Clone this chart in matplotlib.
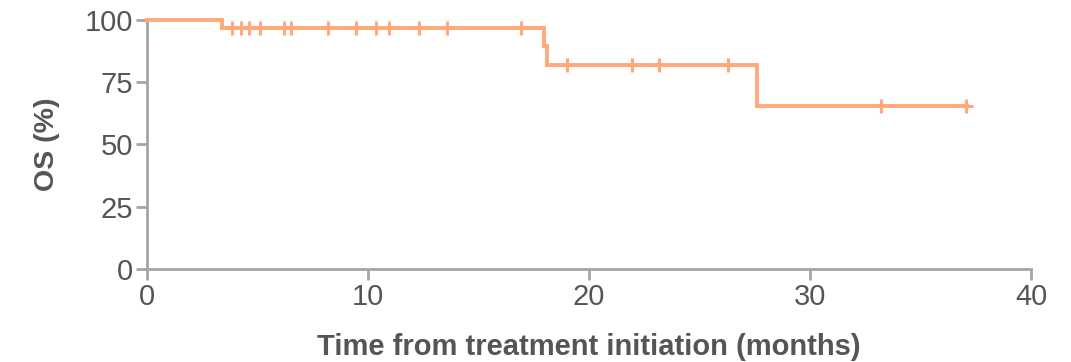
import numpy as np
import matplotlib.pyplot as plt

plt.rcParams['font.family'] = ['Liberation Sans', 'DejaVu Sans']

# Kaplan-Meier steps (months, OS %)
step_time = [0, 3.4, 17.95, 18.08, 27.58, 37.1]
step_surv = [100, 96.8, 89.7, 81.9, 65.5, 65.5]

# censored observations
cens_time = [3.86, 4.25, 4.63, 5.11, 6.18, 6.52, 8.19, 9.46, 10.36, 10.96,
             12.29, 13.56, 16.94, 18.99, 21.96, 23.15, 26.3, 33.2, 37.04]
cens_surv = [96.8] * 13 + [81.9] * 4 + [65.5] * 2

line_color = '#FFA97A'
axis_color = '#A8A4A4'
text_color = '#555555'

fig = plt.figure(figsize=(10.71, 3.62), dpi=100)
ax = fig.add_axes([0.1373, 0.2569, 0.8254, 0.6879])

ax.step(step_time, step_surv, where='post', color=line_color, lw=2.8,
        solid_joinstyle='miter', clip_on=False, zorder=3)
ax.plot(cens_time, cens_surv, ls='none', marker='+', ms=10, mew=2.2,
        color=line_color, clip_on=False, zorder=3)

ax.set_xlim(0, 40)
ax.set_ylim(0, 100)
ax.set_xticks([0, 10, 20, 30, 40])
ax.set_yticks([0, 25, 50, 75, 100])

for s in ['top', 'right']:
    ax.spines[s].set_visible(False)
for s in ['left', 'bottom']:
    ax.spines[s].set_color(axis_color)
    ax.spines[s].set_linewidth(2)

ax.tick_params(colors=axis_color, width=2, length=8, labelsize=21,
               labelcolor=text_color, pad=2)

ax.set_xlabel('Time from treatment initiation (months)', fontsize=21,
              fontweight='bold', color=text_color, labelpad=16)
ax.set_ylabel('OS (%)', fontsize=20.5, fontweight='bold', color=text_color,
              labelpad=18)

fig.savefig('out.png', dpi=100)
